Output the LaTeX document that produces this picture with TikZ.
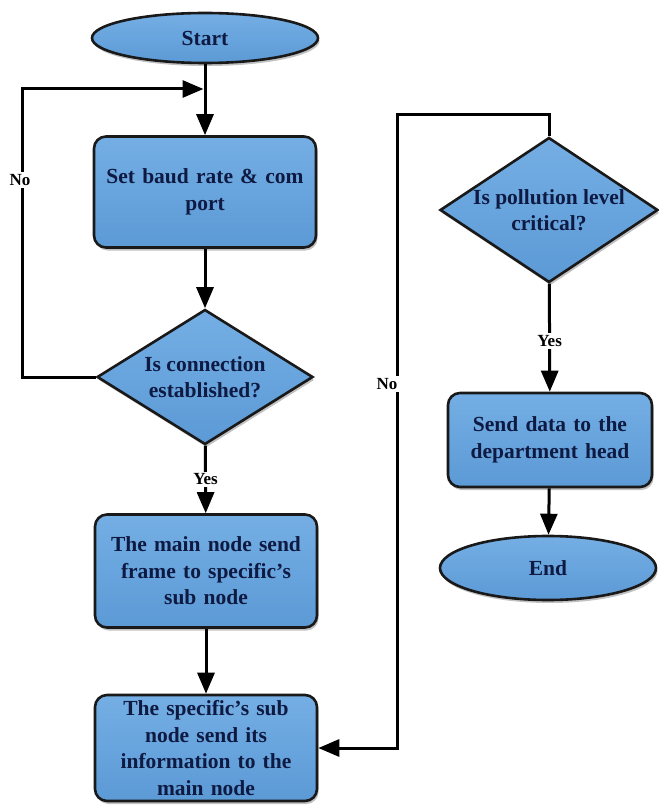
\documentclass[tikz,border=0pt]{standalone}
\usepackage{fontspec}
\setmainfont{Liberation Serif}
\usetikzlibrary{shapes.geometric,arrows.meta,shadows}

\definecolor{boxtop}{HTML}{74AEE4}
\definecolor{boxbot}{HTML}{5C9AD6}
\definecolor{ink}{HTML}{0E1A42}

\tikzset{
  x=1pt, y=-1pt,
  every node/.style={font=\fontsize{21.5}{26.5}\selectfont\bfseries, text=ink},
  flowshape/.style={draw=black!90, line width=2.6pt, top color=boxtop, bottom color=boxbot,
    drop shadow={shadow xshift=1.5pt, shadow yshift=-3pt, opacity=0.35, fill=black!70}},
  procbox/.style={flowshape, rectangle, rounded corners=12pt, minimum width=222pt,
    minimum height=111pt, text width=214pt, align=center, inner sep=0pt},
  term/.style={flowshape, ellipse, minimum width=226pt, minimum height=50pt, inner sep=0pt},
  decide/.style={flowshape, diamond, minimum width=216pt, minimum height=135pt, inner sep=0pt},
  dtext/.style={align=center, inner sep=0pt},
  conn/.style={line width=3pt, black},
  arr/.style={conn, -{Triangle[length=21pt,width=17pt]}},
  lbl/.style={fill=white, inner sep=2pt, font=\fontsize{17}{19}\selectfont\bfseries, text=black}
}

\begin{document}
\begin{tikzpicture}
\useasboundingbox (0,0) rectangle (658,805);

% left column
\node[term] (start) at (205,38) {Start};
\node[procbox] (box1) at (205,192) {Set baud rate \& com\\port};
\node[decide] (d1) at (205,377) {};
\node[dtext] at (d1) {Is connection\\established?};
\node[procbox, minimum height=113pt] (box2) at (206,571) {The main node send\\frame to specific’s\\sub node};
\node[procbox, minimum height=106pt] (box3) at (206,748) {The specific’s sub\\node send its\\information to the\\main node};

% right column
\node[decide, minimum width=218pt, minimum height=145pt] (d2) at (549,210) {};
\node[dtext] at (d2) {Is pollution level\\critical?};
\node[procbox, minimum width=204pt, minimum height=94pt, text width=198pt] (box4) at (550,440) {Send data to the\\department head};
\node[term, minimum width=216pt, minimum height=64pt] (end) at (548,568) {End};

% loop-back and bend points
\coordinate (j1) at (205,89);
\coordinate (lx) at (22,89);
\coordinate (rt) at (397,115);

% connectors
\draw[arr] (start) -- (box1);
\draw[arr] (d1.west) -| (lx) -- ([xshift=-1.5pt]j1);
\draw[arr] (box1) -- (d1);
\draw[arr] (d1) -- node[lbl] {Yes} (box2);
\draw[arr] (box2) -- (box3);
\draw[arr] (d2) -- node[lbl, pos=0.53] {Yes} (box4);
\draw[arr] (box4) -- (end);
\draw[arr] (d2.north) |- (rt) |- (box3.east);

% branch labels
\node[lbl] at (20,180) {No};
\node[lbl] at (387,384) {No};
\end{tikzpicture}
\end{document}
